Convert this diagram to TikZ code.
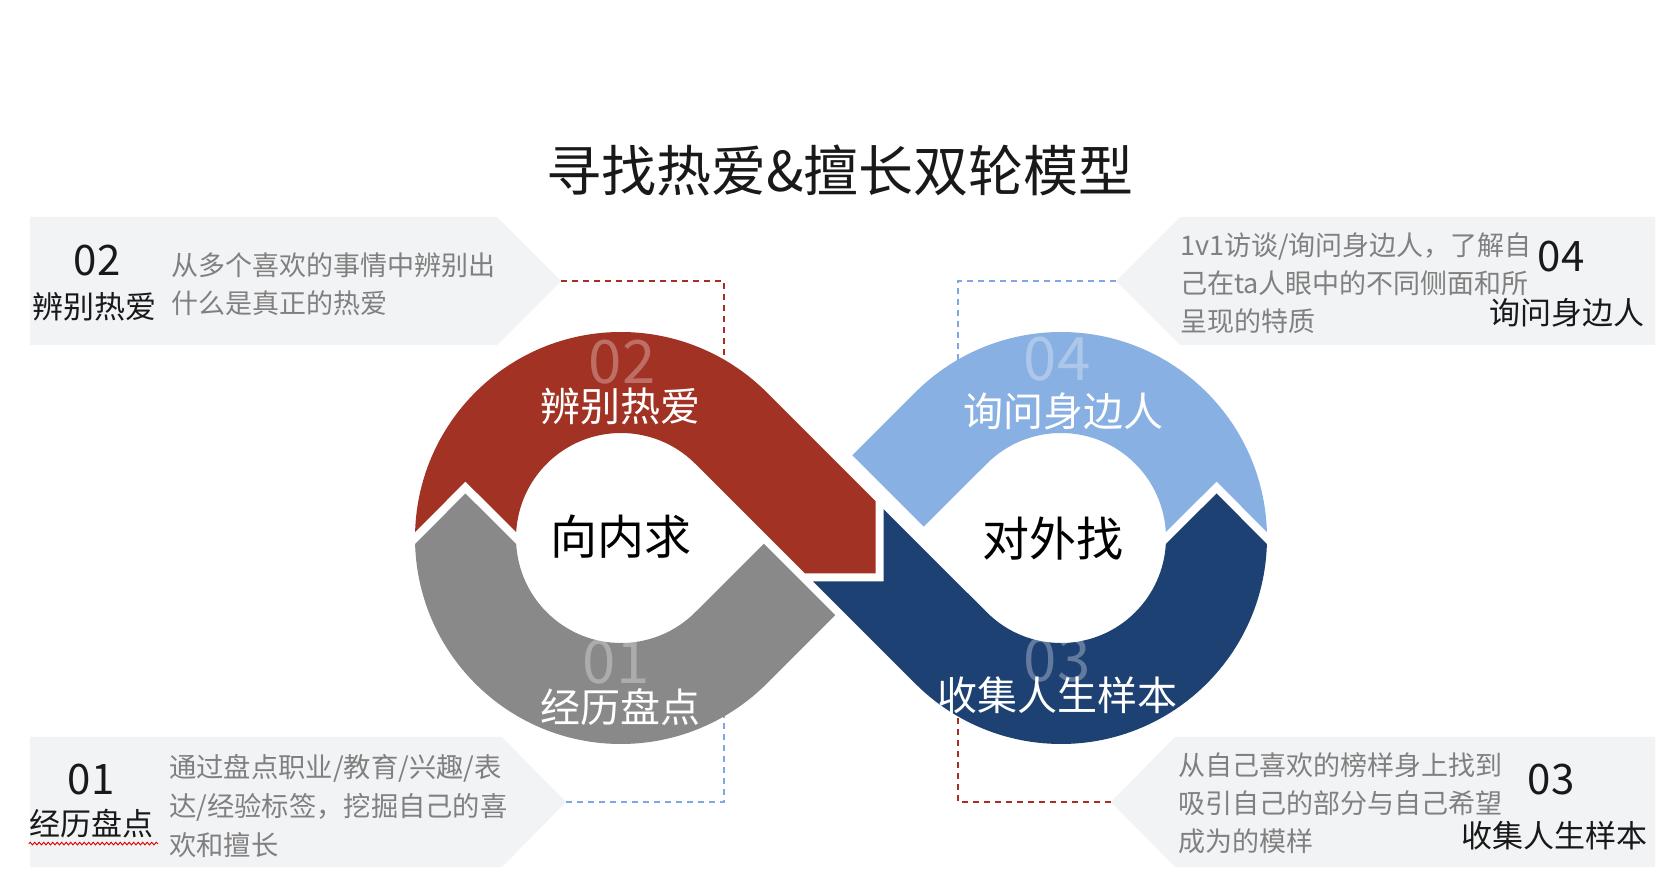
\documentclass[tikz,border=0pt]{standalone}
\usepackage{fontspec}
\setmainfont{Noto Sans CJK SC}
\usetikzlibrary{calc,decorations.pathmorphing}
\definecolor{cred}{RGB}{162,50,35}
\definecolor{cgray}{RGB}{137,137,137}
\definecolor{clblue}{RGB}{137,176,226}
\definecolor{cdblue}{RGB}{30,65,116}
\definecolor{cbox}{RGB}{242,243,245}
\definecolor{ctext}{RGB}{128,128,128}
\definecolor{cdashred}{RGB}{170,45,35}
\definecolor{cdashblue}{RGB}{125,168,225}
\tikzset{
  lbl/.style={inner sep=0pt, anchor=center},
  title/.style={lbl, font=\fontsize{55}{60}\selectfont, text=black!90},
  boxnum/.style={lbl, font=\fontsize{42}{46}\selectfont, text=black!90},
  boxname/.style={lbl, font=\fontsize{31}{34}\selectfont, text=black!90},
  desc/.style={inner sep=0pt, anchor=west, align=left, font=\fontsize{27}{38}\selectfont, text=ctext},
  ghost/.style={lbl, font=\fontsize{60}{62}\selectfont, text=white, text opacity=0.3},
  bandlbl/.style={lbl, font=\fontsize{40}{44}\selectfont, text=white},
  center/.style={lbl, font=\fontsize{47}{50}\selectfont, text=black},
  dashr/.style={draw=cdashred, line width=1.5pt, dash pattern=on 6pt off 5pt},
  dashb/.style={draw=cdashblue, line width=1.5pt, dash pattern=on 6pt off 5pt},
  squiggle/.style={draw=red!85!black, line width=0.9pt, decorate,
    decoration={snake, amplitude=1.3pt, segment length=4.5pt}},
}
\begin{document}
\begin{tikzpicture}[x=1pt,y=1pt]
\useasboundingbox (0,0) rectangle (1674,876);
\fill[white] (0,0) rectangle (1674,876);
\coordinate (CL) at (621,338);
\coordinate (CR) at (1061,338);

% title
\node[title] (ttl) at (840,705) {寻找热爱\&擅长双轮模型};

% side boxes
\fill[cbox] (30,659) -- (497,659) -- (561,595) -- (497,531) -- (30,531) -- cycle;
\fill[cbox] (30,139) -- (502,139) -- (566,74) -- (502,9) -- (30,9) -- cycle;
\fill[cbox] (1655,659) -- (1180,659) -- (1116,595) -- (1180,531) -- (1655,531) -- cycle;
\fill[cbox] (1655,139) -- (1175,139) -- (1111,74) -- (1175,9) -- (1655,9) -- cycle;

% connector ends
\coordinate (tip2) at (561,595);
\coordinate (end2) at (724,496);
\coordinate (tip1) at (566,74);
\coordinate (end1) at (724,176);
\coordinate (tip4) at (1116,595);
\coordinate (end4) at (958,496);
\coordinate (tip3) at (1111,74);
\coordinate (end3) at (958,176);
\draw[dashr] (tip2) -| (end2);
\draw[dashb] (tip1) -| (end1);
\draw[dashb] (tip4) -| (end4);
\draw[dashr] (tip3) -| (end3);

% gray piece (01)
\fill[cgray] (835.2,260.8) -- (763.8,332.2) -- ($(CL)+(-45:105)$)
  arc[start angle=-45,end angle=-176.73,radius=105] -- (465.44,382.5)
  -- ($(CL)+(-178.33:206)$) arc[start angle=-178.33,end angle=-45,radius=206] -- cycle;
% red piece (02)
\fill[cred] ($(CL)+(176.73:105)$) -- (465.44,394.5) -- ($(CL)+(178.33:206)$)
  arc[start angle=178.33,end angle=45,radius=206] -- (875.5,374.9) -- (875.5,302.5)
  -- (805.1,302.5) -- ($(CL)+(45:105)$) arc[start angle=45,end angle=176.73,radius=105] -- cycle;
% dark blue piece (03)
\fill[cdblue] (813.1,294.5) -- (883.5,294.5) -- (883.5,366.9) -- ($(CR)+(225:105)$)
  arc[start angle=225,end angle=356.73,radius=105] -- (1216.56,382.5)
  -- ($(CR)+(358.33:206)$) arc[start angle=358.33,end angle=225,radius=206] -- cycle;
% light blue piece (04)
\fill[clblue] ($(CR)+(3.27:105)$) -- (1216.56,394.5) -- ($(CR)+(1.67:206)$)
  arc[start angle=1.67,end angle=135,radius=206] -- (852.3,420.7) -- (923.7,349.3)
  -- ($(CR)+(135:105)$) arc[start angle=135,end angle=3.27,radius=105] -- cycle;

% ghost numbers and band labels
\node[ghost] (g2) at (622,514) {02};
\node[bandlbl] (b2) at (620,470) {辨别热爱};
\node[ghost] (g1) at (616,214) {01};
\node[bandlbl] (b1) at (620,169) {经历盘点};
\node[ghost] (g4) at (1057,517) {04};
\node[bandlbl] (b4) at (1063,465) {询问身边人};
\node[ghost] (g3) at (1057,216) {03};
\node[bandlbl] (b3) at (1057,181) {收集人生样本};

\node[center] (inner) at (621,339) {向内求};
\node[center] (outer) at (1053,337) {对外找};

% box texts
\node[boxnum] (n2) at (97,615) {02};
\node[boxname] (m2) at (94,569) {辨别热爱};
\node[desc] (d2) at (171,592) {从多个喜欢的事情中辨别出\\什么是真正的热爱};

\node[boxnum] (n1) at (91,96) {01};
\node[boxname] (m1) at (91,52) {经历盘点};
\draw[squiggle] ($(m1.south west)+(0,-5)$) -- ($(m1.south east)+(5,-5)$);
\node[desc, font=\fontsize{27.3}{39}\selectfont] (d1) at (169,70) {通过盘点职业/教育/兴趣/表\\达/经验标签，挖掘自己的喜\\欢和擅长};

\node[boxnum] (n4) at (1561,619) {04};
\node[boxname] (m4) at (1567,563) {询问身边人};
\node[desc] (d4) at (1180,593) {1v1访谈/询问身边人，了解自\\己在ta人眼中的不同侧面和所\\呈现的特质};

\node[boxnum] (n3) at (1551,96) {03};
\node[boxname] (m3) at (1554,40) {收集人生样本};
\node[desc] (d3) at (1178,73) {从自己喜欢的榜样身上找到\\吸引自己的部分与自己希望\\成为的模样};
\end{tikzpicture}
\end{document}
